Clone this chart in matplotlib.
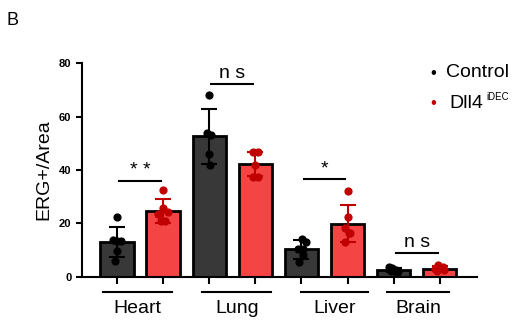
import matplotlib.pyplot as plt
import matplotlib.transforms as mtransforms
import numpy as np

plt.rcParams['font.family'] = ['Liberation Sans', 'DejaVu Sans']

organs = ['Heart', 'Lung', 'Liver', 'Brain']
ctrl_pts = [[22.5, 14.0, 13.6, 13.6, 9.6, 6.1],
            [68.0, 54.0, 53.0, 46.0, 42.0],
            [14.1, 13.1, 10.4, 10.4, 5.7, 8.2],
            [3.6, 3.3, 2.6, 2.1, 2.4, 1.6]]
dll4_pts = [[32.5, 25.7, 23.6, 24.3, 21.0, 21.0],
            [46.8, 46.8, 41.9, 37.5, 37.5],
            [32.3, 22.5, 18.4, 16.6, 16.6, 13.2],
            [3.0, 4.4, 3.2, 2.5, 2.1, 3.6]]
ctrl_sd = [5.6, 10.3, 3.5, 0.7]
dll4_sd = [4.4, 4.5, 7.0, 0.9]
sig_labels = ['* *', 'n s', '*', 'n s']
sig_y = [36, 72, 36.5, 9]

# jitter offsets for points (visual only)
jit_c = [[0, -0.08, 0.0, 0.08, 0.0, -0.04], [0, -0.05, 0.05, 0, 0.01],
         [0.01, 0.09, -0.07, 0.04, -0.06, 0.04], [-0.1, -0.03, 0.04, 0.1, -0.06, 0.07]]
jit_d = [[0, 0, -0.1, 0.1, -0.05, 0.05], [-0.05, 0.05, 0, -0.05, 0.05],
         [0, 0, -0.05, 0.05, 0.02, -0.05], [-0.1, -0.03, 0.04, 0.1, -0.06, 0.07]]

dark = '#383838'
red = '#f44444'
dred = '#c00000'

fig = plt.figure(figsize=(5.28, 3.22), dpi=100)
ax = fig.add_axes([0.155, 0.140, 0.748, 0.664])

xc = np.arange(4) * 2
xd = xc + 1
c_mean = [np.mean(p) for p in ctrl_pts]
d_mean = [np.mean(p) for p in dll4_pts]

ax.bar(xc, c_mean, width=0.72, color=dark, edgecolor='black', linewidth=2, zorder=2)
ax.bar(xd, d_mean, width=0.72, color=red, edgecolor='black', linewidth=2, zorder=2)
ax.errorbar(xc, c_mean, yerr=ctrl_sd, fmt='none', ecolor='black', elinewidth=1.5,
            capsize=6, capthick=1.5, zorder=3)
ax.errorbar(xd, d_mean, yerr=dll4_sd, fmt='none', ecolor=dred, elinewidth=1.5,
            capsize=6, capthick=1.5, zorder=3)
for i in range(4):
    ax.scatter(xc[i] + np.array(jit_c[i]), ctrl_pts[i], s=24, color='black', zorder=4)
    ax.scatter(xd[i] + np.array(jit_d[i]), dll4_pts[i], s=24, color=dred, zorder=4)
    ax.plot([xc[i] + 0.05, xd[i] - 0.05], [sig_y[i]] * 2, color='black', lw=1.5)
    ax.text((xc[i] + xd[i]) / 2, sig_y[i] + 0.8, sig_labels[i], ha='center', va='bottom',
            fontsize=14)

ax.set_xlim(-0.76, 7.8)
ax.set_ylim(0, 80)
ax.set_yticks([0, 20, 40, 60, 80])
ax.set_yticklabels(['0', '20', '40', '60', '80'], fontsize=8, fontweight='bold')
ax.set_xticks(list(xc) + list(xd))
ax.set_xticklabels([])
ax.tick_params(axis='both', width=1.5, length=4, direction='out')
ax.tick_params(axis='x', length=5)
for s in ['top', 'right']:
    ax.spines[s].set_visible(False)
ax.spines['left'].set_linewidth(1.5)
ax.spines['bottom'].set_linewidth(1.5)
ax.set_ylabel('ERG+/Area', fontsize=14, labelpad=5)

trans = mtransforms.blended_transform_factory(ax.transData, ax.transAxes)
line_x = [(-0.3, 1.2), (1.85, 3.35), (3.98, 5.45), (5.85, 7.2)]
for i, name in enumerate(organs):
    ax.plot(line_x[i], [-0.07, -0.07], color='black', lw=1.5, transform=trans, clip_on=False)
    ax.text(sum(line_x[i]) / 2, -0.11, name, transform=trans, ha='center', va='top',
            fontsize=14)

fig.text(0.82, 0.773, '\u2022', fontsize=12, color='black', ha='center', va='center')
fig.text(0.845, 0.775, 'Control', fontsize=14, ha='left', va='center')
fig.text(0.82, 0.68, '\u2022', fontsize=12, color=dred, ha='center', va='center')
t = fig.text(0.852, 0.68, 'Dll4', fontsize=14, ha='left', va='center')
ax.annotate('iDEC', xy=(1, 0.85), xycoords=t, xytext=(2, 0), textcoords='offset points',
            fontsize=7, ha='left', va='center', annotation_clip=False)
fig.text(0.012, 0.935, 'B', fontsize=13, ha='left', va='center')

fig.savefig('out.png', dpi=100)
